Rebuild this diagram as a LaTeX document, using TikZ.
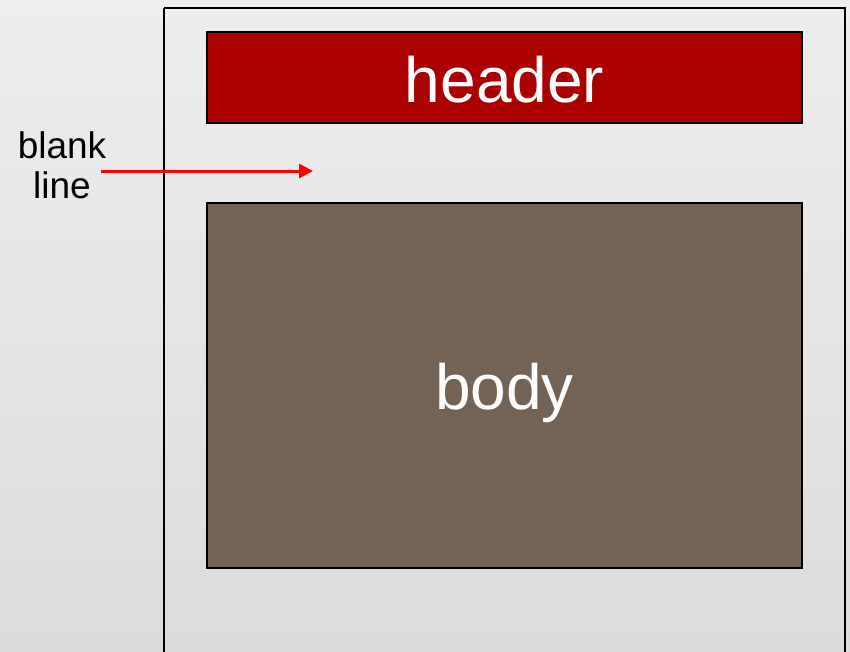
\documentclass[tikz,border=0pt]{standalone}
\usepackage{fontspec}
\setmainfont{Liberation Sans}
\usetikzlibrary{arrows.meta}
\definecolor{hdrred}{HTML}{AA0000}
\definecolor{bodybrown}{HTML}{736357}
\definecolor{bgtop}{HTML}{EEEEEE}
\definecolor{bgbot}{HTML}{DCDCDC}
\tikzset{
  x=1pt, y=-1pt,
  blockbox/.style={draw=black, line width=2pt},
  bigtext/.style={text=white, font=\fontsize{64}{77}\selectfont, anchor=base},
  sidelabel/.style={font=\fontsize{37}{40}\selectfont, align=center},
  redarrow/.style={draw=red, line width=3pt, -{Triangle[length=14pt,width=14pt]}}
}
\begin{document}
\begin{tikzpicture}
\useasboundingbox (0,0) rectangle (850,651);
\clip (0,0) rectangle (850,651);
\shade[top color=bgtop, bottom color=bgbot] (0,0) rectangle (850,651);
\draw[line width=2pt] (164,8) -- (845,8) -- (845,660) (164,8) -- (164,660);
\path[blockbox, fill=hdrred] (207,32) rectangle (802,123);
\node[bigtext] (header) at (504.5,102) {header};
\path[blockbox, fill=bodybrown] (207,203) rectangle (802,568);
\node[bigtext] (body) at (504.5,409) {body};
\node[sidelabel] (blank) at (62,165) {blank\\line};
\coordinate (tip) at (313,171);
\draw[redarrow] (101,171) -- (tip);
\end{tikzpicture}
\end{document}
